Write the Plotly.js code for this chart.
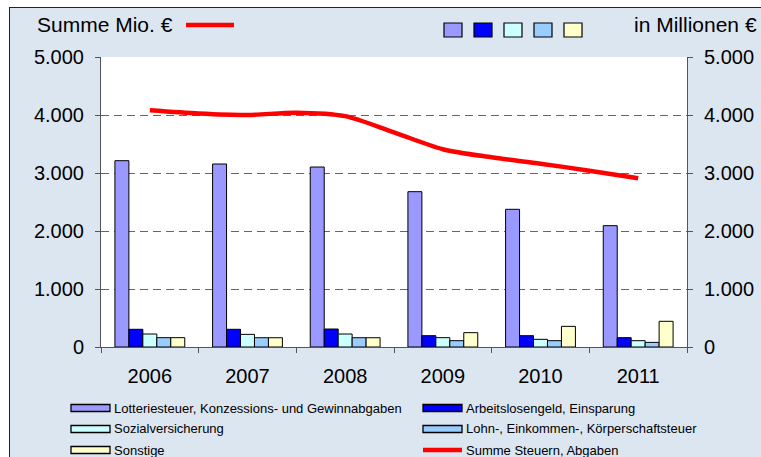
<!DOCTYPE html>
<html>
<head>
<meta charset="utf-8">
<script src="https://cdn.plot.ly/plotly-3.0.1.min.js"></script>
<style>
  html, body { margin: 0; padding: 0; background: #ffffff; overflow: hidden; width: 761px; height: 457px; }
  #wrap { position: absolute; left: 9px; top: 7px; border-left: 1px solid #222; border-top: 1px solid #222; width: 751px; height: 449px; }
  #chart { width: 751px; height: 449px; }
</style>
</head>
<body>
<div id="wrap"><div id="chart"></div></div>
<script>
// ---- data ----
const years = ["2006", "2007", "2008", "2009", "2010", "2011"];
const lotterie = [3212, 3155, 3103, 2678, 2374, 2092];
const arbeitslosengeld = [305, 305, 310, 195, 195, 161];
const sozialversicherung = [224, 218, 224, 161, 132, 109];
const lohnsteuer = [161, 160, 160, 109, 109, 80];
const sonstige = [161, 160, 160, 247, 356, 443];
const summeX = [2006, 2006.5, 2007, 2007.5, 2008, 2008.5, 2009, 2009.5, 2010, 2010.5, 2011];
const summe = [4080, 4025, 4000, 4040, 3980, 3700, 3410, 3270, 3160, 3040, 2910];
const yTicks = [0, 1000, 2000, 3000, 4000, 5000];

const names = [
  "Lotteriesteuer, Konzessions- und Gewinnabgaben",
  "Arbeitslosengeld, Einsparung",
  "Sozialversicherung",
  "Lohn-, Einkommen-, Körperschaftsteuer",
  "Sonstige",
  "Summe Steuern, Abgaben"
];
const colors = ["#9999FF", "#0000FF", "#CCFFFF", "#99CCFF", "#FFFFCC"];
const lineColor = "#FF0000";

// ---- geometry helpers (page pixels -> paper coords) ----
const DIVX = 10, DIVY = 8;
const PL = 101, PR = 687, PT = 57, PB = 347;
const W = 751, H = 449;
function px(X) { return (X - PL) / (PR - PL); }
function py(Y) { return (PB - Y) / (PB - PT); }

const barSeries = [lotterie, arbeitslosengeld, sozialversicherung, lohnsteuer, sonstige];
const traces = barSeries.map((vals, i) => ({
  type: "bar", x: years, y: vals, name: names[i],
  marker: { color: colors[i], line: { color: "#000000", width: 1 } },
  xaxis: "x", yaxis: "y", showlegend: false, hoverinfo: "x+y"
}));
traces.push({
  type: "scatter", mode: "lines", x: summeX, y: summe, name: names[5],
  line: { color: lineColor, width: 4.5, shape: "spline", smoothing: 0.8 },
  xaxis: "x2", yaxis: "y2", showlegend: false
});

const font = "Liberation Sans, Arial, sans-serif";
const shapes = [];
const annotations = [];

// top header: title + red line sample
annotations.push({ xref: "paper", yref: "paper", x: px(35), y: py(24.5), xanchor: "left", yanchor: "middle",
  text: "Summe Mio. €", showarrow: false, font: { family: font, size: 21, color: "#000" } });
shapes.push({ type: "line", xref: "paper", yref: "paper", x0: px(186), x1: px(234), y0: py(25), y1: py(25),
  line: { color: lineColor, width: 4.5 } });
// top colour squares
for (let i = 0; i < 5; i++) {
  const x0 = 444 + i * 30;
  shapes.push({ type: "rect", xref: "paper", yref: "paper", x0: px(x0), x1: px(x0 + 18), y0: py(23), y1: py(37),
    fillcolor: colors[i], line: { color: "#000", width: 1.2 } });
}
annotations.push({ xref: "paper", yref: "paper", x: px(759), y: py(24.5), xanchor: "right", yanchor: "middle",
  text: "in Millionen €", showarrow: false, font: { family: font, size: 21, color: "#000" } });

// bottom legend (2 columns, row-wise)
const colX = [71, 423];
const rowY = [408, 429, 450];
for (let i = 0; i < 6; i++) {
  const cx = colX[i % 2], cy = rowY[Math.floor(i / 2)];
  if (i < 5) {
    shapes.push({ type: "rect", xref: "paper", yref: "paper", x0: px(cx), x1: px(cx + 39), y0: py(cy - 3.5), y1: py(cy + 3.5),
      fillcolor: colors[i], line: { color: "#000", width: 1.3 } });
  } else {
    shapes.push({ type: "line", xref: "paper", yref: "paper", x0: px(cx), x1: px(cx + 39), y0: py(cy), y1: py(cy),
      line: { color: lineColor, width: 4.5 } });
  }
  annotations.push({ xref: "paper", yref: "paper", x: px(cx + 41), y: py(cy), xanchor: "left", yanchor: "middle",
    text: names[i], showarrow: false, font: { family: font, size: 13, color: "#000" } });
}

const axisColor = "#555555";
const layout = {
  width: W, height: H,
  margin: { l: PL - DIVX, r: W - (PR - DIVX), t: PT - DIVY, b: H - (PB - DIVY), pad: 0 },
  paper_bgcolor: "#DCE6F1",
  plot_bgcolor: "#FFFFFF",
  separators: ",.",
  barmode: "group", bargap: 0.285, bargroupgap: 0,
  showlegend: false,
  font: { family: font, color: "#000" },
  xaxis: {
    type: "category", tickson: "boundaries", ticks: "outside", ticklen: 5, tickcolor: axisColor, tickwidth: 1,
    showline: true, linecolor: axisColor, linewidth: 1, showgrid: false, zeroline: false,
    tickfont: { family: font, size: 20, color: "#000" }, ticklabelstandoff: 11, fixedrange: true
  },
  xaxis2: {
    type: "linear", overlaying: "x", range: [2005.5, 2011.5], visible: false, fixedrange: true
  },
  yaxis: {
    range: [0, 5000], tickvals: yTicks, tickformat: ",d", ticks: "outside", ticklen: 5, tickcolor: axisColor,
    showline: true, linecolor: axisColor, linewidth: 1, zeroline: false,
    showgrid: true, gridcolor: "#666666", gridwidth: 1, griddash: "8px,5px",
    tickfont: { family: font, size: 20, color: "#000" }, ticklabelstandoff: 7, fixedrange: true
  },
  yaxis2: {
    overlaying: "y", side: "right", range: [0, 5000], tickvals: yTicks, tickformat: ",d", ticks: "outside", ticklen: 5,
    tickcolor: axisColor, showline: true, linecolor: axisColor, linewidth: 1, showgrid: false, zeroline: false,
    tickfont: { family: font, size: 20, color: "#000" }, ticklabelstandoff: 7, fixedrange: true
  },
  shapes: shapes,
  annotations: annotations
};

Plotly.newPlot("chart", traces, layout, { displayModeBar: false, staticPlot: true });
</script>
</body>
</html>
